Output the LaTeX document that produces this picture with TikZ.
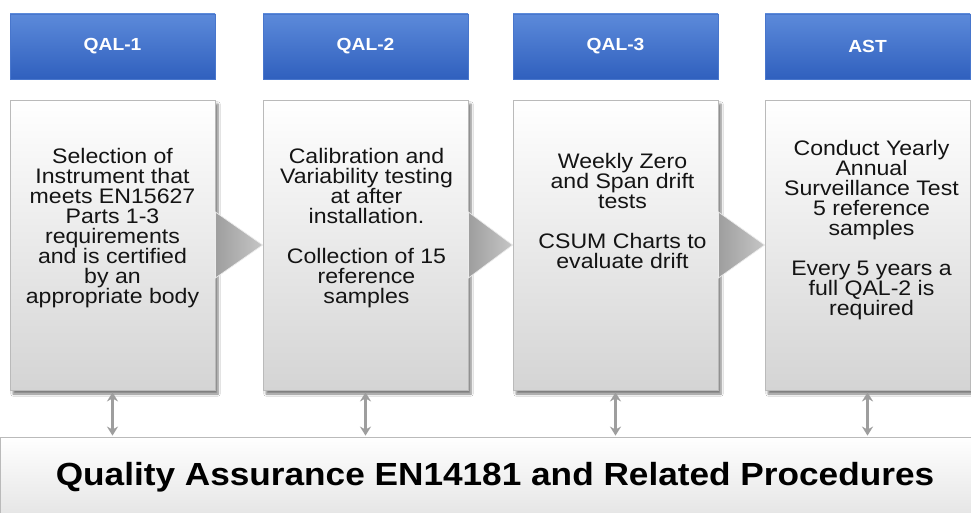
\documentclass[tikz,border=0pt]{standalone}
\usepackage{fontspec}
\setmainfont{Liberation Sans}
\newfontfamily\stepfont[FakeStretch=1.1]{Liberation Sans}
\usetikzlibrary{shadows.blur,arrows.meta,calc}

\definecolor{headtop}{RGB}{92,138,218}
\definecolor{headbot}{RGB}{48,96,190}
\definecolor{headborder}{RGB}{72,118,204}
\definecolor{panelbot}{RGB}{212,212,212}
\definecolor{panelborder}{RGB}{186,186,186}
\definecolor{basebot}{RGB}{222,222,222}
\definecolor{linkgray}{RGB}{158,158,158}
\definecolor{chevleft}{RGB}{158,158,158}
\definecolor{chevright}{RGB}{198,198,198}

\begin{document}
\begin{tikzpicture}[x=1pt,y=-1pt,
  head/.style={draw=headborder, line width=0.6pt, top color=headtop, bottom color=headbot,
    minimum width=205pt, minimum height=65pt, inner sep=0pt, text=white,
    font=\stepfont\bfseries\fontsize{17.5}{20}\selectfont},
  panel/.style={draw=panelborder, line width=0.8pt, top color=white, bottom color=panelbot,
    minimum width=205pt, minimum height=290pt, inner sep=0pt,
    blur shadow={shadow xshift=3pt, shadow yshift=-4pt, shadow blur steps=6, shadow opacity=50}},
  paneltext/.style={anchor=north, align=center, inner sep=0pt, text=black!92,
    font=\stepfont\fontsize{21}{20}\selectfont},
  chevron/.style={left color=chevleft, right color=chevright, draw=white!85!gray, line width=0.7pt},
  link/.style={draw=linkgray, line width=2.6pt, {Stealth[length=9pt,width=11pt]}-{Stealth[length=9pt,width=11pt]}},
  basebox/.style={draw=panelborder, line width=0.8pt, top color=white, bottom color=basebot,
    minimum width=990pt, minimum height=100pt, inner sep=0pt},
]
\useasboundingbox (0,0) rectangle (971,513);
\clip (0,0) rectangle (971,513);
\fill[white] (0,0) rectangle (971,513);

% stage headers
\node[head] (h1) at (112.5,46.5) {QAL-1};
\node[head] (h2) at (365.5,46.5) {QAL-2};
\node[head] (h3) at (615.5,46.5) {QAL-3};
\node[head] (h4) at (867.5,46.5) {AST};

% stage panels
\node[panel] (b1) at (112.5,245) {};
\node[panel] (b2) at (365.5,245) {};
\node[panel] (b3) at (615.5,245) {};
\node[panel] (b4) at (867.5,245) {};

% chevrons between the panels
\foreach \a/\b in {b1/b2,b2/b3,b3/b4}{
  \path[chevron] ($(\a.east)+(0,-33)$) -- (\b.west) -- ($(\a.east)+(0,33)$) -- cycle;
}

% panel texts
\node[paneltext] (t1) at ($(b1.north)+(0,48)$)
  {Selection of\\Instrument that\\meets EN15627\\Parts 1-3\\requirements\\and is certified\\by an\\appropriate body};
\node[paneltext] (t2) at ($(b2.north)+(1,48)$)
  {Calibration and\\Variability testing\\at after\\installation.\\[20pt]Collection of 15\\reference\\samples};
\node[paneltext] (t3) at ($(b3.north)+(7,53)$)
  {Weekly Zero\\and Span drift\\tests\\[20pt]CSUM Charts to\\evaluate drift};
\node[paneltext] (t4) at ($(b4.north)+(4,40)$)
  {Conduct Yearly\\Annual\\Surveillance Test\\5 reference\\samples\\[20pt]Every 5 years a\\full QAL-2 is\\required};

% common base
\node[basebox] (base) at (495,487) {};
\node[inner sep=0pt, font=\stepfont\bfseries\fontsize{32}{36}\selectfont] (qa) at (495,477)
  {Quality Assurance EN14181 and Related Procedures};

% links between each panel and the base
\foreach \n in {b1,b2,b3,b4}{
  \draw[link] ($(\n.south)+(0,2)$) -- ($(\n.south |- base.north)+(0,-1)$);
}
\end{tikzpicture}
\end{document}
